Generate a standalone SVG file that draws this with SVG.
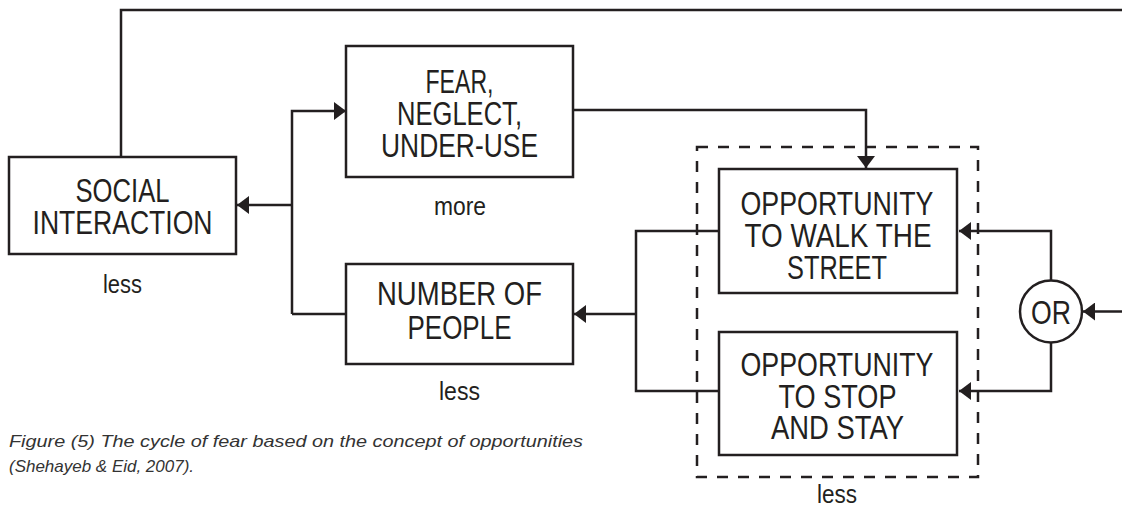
<svg xmlns="http://www.w3.org/2000/svg" width="1122" height="510" viewBox="0 0 1122 510">
<defs>
<marker id="ah" viewBox="0 0 12 18" refX="12" refY="9" markerWidth="12" markerHeight="18" markerUnits="userSpaceOnUse" orient="auto">
<path d="M0,0 L12,9 L0,18 z" fill="#231f20"/>
</marker>
<style>
.box{fill:#fff;stroke:#231f20;stroke-width:2.5}
.ln{fill:none;stroke:#231f20;stroke-width:2.5}
.dash{fill:none;stroke:#231f20;stroke-width:2.5;stroke-dasharray:11 10}
.t{font-family:"Liberation Sans",Arial,sans-serif;font-size:33px;fill:#231f20;text-anchor:middle}
.s{font-family:"Liberation Sans",Arial,sans-serif;font-size:26px;fill:#231f20;text-anchor:middle}
.cap{font-family:"Liberation Sans",Arial,sans-serif;font-size:17px;font-style:italic;fill:#333}
</style>
</defs>
<rect width="1122" height="510" fill="#fff"/>
<g id="connectors">
<polyline class="ln" points="121,157 121,10 1122,10"/>
<line class="ln" x1="292" y1="205" x2="237" y2="205" marker-end="url(#ah)"/>
<polyline class="ln" points="292,314 292,111 346,111" marker-end="url(#ah)"/>
<line class="ln" x1="292" y1="314" x2="346" y2="314"/>
<polyline class="ln" points="573,110 866,110 866,168" marker-end="url(#ah)"/>
<polyline class="ln" points="719,231 636,231 636,391 719,391"/>
<line class="ln" x1="636" y1="314" x2="574" y2="314" marker-end="url(#ah)"/>
<polyline class="ln" points="1051,280 1051,231 959,231" marker-end="url(#ah)"/>
<polyline class="ln" points="1051,343 1051,391 959,391" marker-end="url(#ah)"/>
<line class="ln" x1="1122" y1="311.5" x2="1083" y2="311.5" marker-end="url(#ah)"/>
</g>
<g id="opportunities-group">
<rect class="dash" x="697" y="147" width="281" height="330"/>
<text class="s" x="837" y="503" textLength="40" lengthAdjust="spacingAndGlyphs">less</text>
</g>
<g id="social-interaction">
<rect class="box" x="9" y="157" width="227" height="97"/>
<text class="t" x="122.5" y="202" textLength="94" lengthAdjust="spacingAndGlyphs">SOCIAL</text>
<text class="t" x="122.5" y="234" textLength="180" lengthAdjust="spacingAndGlyphs">INTERACTION</text>
<text class="s" x="122.5" y="293" textLength="39" lengthAdjust="spacingAndGlyphs">less</text>
</g>
<g id="fear">
<rect class="box" x="346" y="46" width="227" height="131"/>
<text class="t" x="459.5" y="93" textLength="68" lengthAdjust="spacingAndGlyphs">FEAR,</text>
<text class="t" x="459.5" y="125" textLength="125" lengthAdjust="spacingAndGlyphs">NEGLECT,</text>
<text class="t" x="459.5" y="157" textLength="157" lengthAdjust="spacingAndGlyphs">UNDER-USE</text>
<text class="s" x="460" y="215" textLength="52" lengthAdjust="spacingAndGlyphs">more</text>
</g>
<g id="number-of-people">
<rect class="box" x="346" y="264" width="227" height="100"/>
<text class="t" x="459.5" y="305" textLength="165" lengthAdjust="spacingAndGlyphs">NUMBER OF</text>
<text class="t" x="459.5" y="339" textLength="104" lengthAdjust="spacingAndGlyphs">PEOPLE</text>
<text class="s" x="459.5" y="400" textLength="41" lengthAdjust="spacingAndGlyphs">less</text>
</g>
<g id="walk-street">
<rect class="box" x="719" y="169" width="238" height="124"/>
<text class="t" x="837" y="215" textLength="193" lengthAdjust="spacingAndGlyphs">OPPORTUNITY</text>
<text class="t" x="838" y="247" textLength="187" lengthAdjust="spacingAndGlyphs">TO WALK THE</text>
<text class="t" x="837" y="279" textLength="100" lengthAdjust="spacingAndGlyphs">STREET</text>
</g>
<g id="stop-stay">
<rect class="box" x="719" y="332" width="238" height="123"/>
<text class="t" x="837" y="376" textLength="193" lengthAdjust="spacingAndGlyphs">OPPORTUNITY</text>
<text class="t" x="837.5" y="408" textLength="118" lengthAdjust="spacingAndGlyphs">TO STOP</text>
<text class="t" x="837.5" y="439" textLength="133" lengthAdjust="spacingAndGlyphs">AND STAY</text>
</g>
<g id="or">
<circle cx="1051" cy="311.5" r="31" fill="#fff" stroke="#231f20" stroke-width="2.5"/>
<text class="t" x="1051" y="324" textLength="40" lengthAdjust="spacingAndGlyphs">OR</text>
</g>
<g id="caption">
<text class="cap" x="9" y="447" textLength="574" lengthAdjust="spacingAndGlyphs">Figure (5) The cycle of fear based on the concept of opportunities</text>
<text class="cap" x="9" y="472" textLength="185" lengthAdjust="spacingAndGlyphs">(Shehayeb &amp; Eid, 2007).</text>
</g>
</svg>
